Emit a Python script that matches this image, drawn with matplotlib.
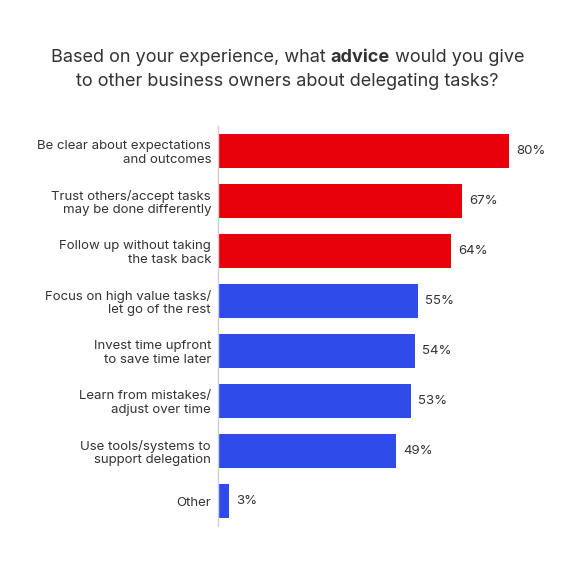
import matplotlib
matplotlib.use("Agg")
import matplotlib.pyplot as plt
import numpy as np

categories = [
    "Be clear about expectations\nand outcomes",
    "Trust others/accept tasks\nmay be done differently",
    "Follow up without taking\nthe task back",
    "Focus on high value tasks/\nlet go of the rest",
    "Invest time upfront\nto save time later",
    "Learn from mistakes/\nadjust over time",
    "Use tools/systems to\nsupport delegation",
    "Other",
]
values = [80, 67, 64, 55, 54, 53, 49, 3]
highlight = [True, True, True, False, False, False, False, False]

RED = "#E8000A"
BLUE = "#2F4BEA"
TEXT = "#333333"

plt.rcParams["font.family"] = ["Inter", "DejaVu Sans"]

W = H = 575
fig = plt.figure(figsize=(5.75, 5.75), dpi=100)
ax = fig.add_axes([218 / W, 1 - 526 / H, 327.6 / W, 400 / H])

y = np.arange(len(categories))
colors = [RED if h else BLUE for h in highlight]
ax.barh(y, values, height=0.68, color=colors)
ax.set_xlim(0, 90)
ax.set_ylim(len(categories) - 0.5, -0.5)

for yi, v in zip(y, values):
    ax.text(v + 2, yi, f"{v}%", va="center", ha="left", fontsize=9.5, color=TEXT)

ax.set_yticks(y)
ax.set_yticklabels(categories, fontsize=9.5, color=TEXT, linespacing=1.15)
ax.tick_params(axis="y", length=0, pad=5)
ax.set_xticks([])
for s in ["top", "right", "bottom"]:
    ax.spines[s].set_visible(False)
ax.spines["left"].set_color("#d0d0d0")
ax.spines["left"].set_linewidth(1)

# title, with the word "advice" in bold
renderer = fig.canvas.get_renderer()
parts = [("Based on your experience, what ", "normal"),
         ("advice", "bold"),
         (" would you give", "normal")]
tsize = 13
texts = []
for s, w in parts:
    t = fig.text(0, 1 - 58 / H, s, fontsize=tsize, fontweight=w, color=TEXT,
                 va="center", ha="left")
    texts.append(t)
widths = [t.get_window_extent(renderer).width for t in texts]
x0 = (W / 2 - sum(widths) / 2)
for t, wd in zip(texts, widths):
    t.set_x(x0 / W)
    x0 += wd
fig.text(0.5, 1 - 82 / H, "to other business owners about delegating tasks?",
         fontsize=tsize, color=TEXT, ha="center", va="center")

fig.savefig("out.png", dpi=100)
